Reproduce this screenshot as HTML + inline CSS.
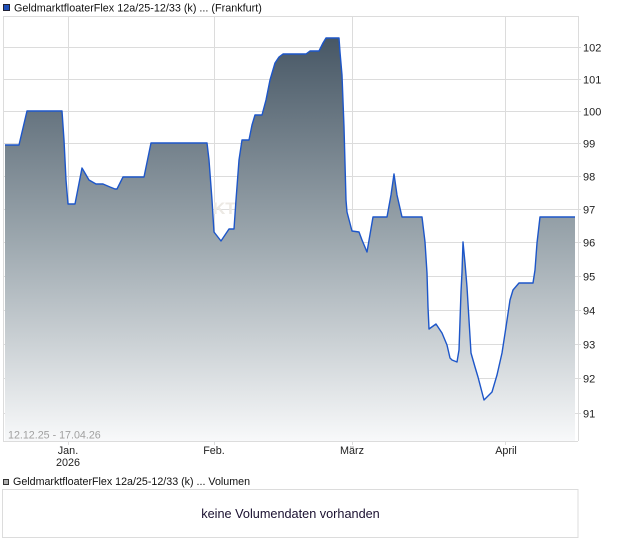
<!DOCTYPE html>
<html><head><meta charset="utf-8"><style>
html,body{margin:0;padding:0;background:#fff;}
svg{display:block;}
text{font-family:"Liberation Sans",Arial,sans-serif;}
</style></head><body>
<svg width="620" height="546" viewBox="0 0 620 546" xmlns="http://www.w3.org/2000/svg">
<defs>
<linearGradient id="g" x1="0" y1="38" x2="0" y2="441" gradientUnits="userSpaceOnUse">
<stop offset="0" stop-color="#475765"/>
<stop offset="0.5" stop-color="#9ca7ae"/>
<stop offset="1" stop-color="#f8f9fa"/>
</linearGradient>
</defs>
<!-- title -->
<rect x="3.5" y="4.5" width="6" height="6" fill="#1f4fb8" stroke="#223" stroke-width="1"/>
<text x="14" y="11.5" font-size="10.8" fill="#111">GeldmarktfloaterFlex 12a/25-12/33 (k) ... (Frankfurt)</text>
<!-- grid -->
<g stroke="#dcdcdc" stroke-width="1" fill="none">
<path d="M3 16.5H578M3 47.5H578M3 79.5H578M3 111.5H578M3 143.5H578M3 176.5H578M3 209.5H578M3 242.5H578M3 276.5H578M3 310.5H578M3 344.5H578M3 378.5H578M3 413.5H578"/>
<path d="M68.5 16V441M214.5 16V441M352.5 16V441M505.5 16V441"/>
<path d="M3.5 16V441M578.5 16V441M3 441.5H578"/>
<path d="M578 47.5h3M578 79.5h3M578 111.5h3M578 143.5h3M578 176.5h3M578 209.5h3M578 242.5h3M578 276.5h3M578 310.5h3M578 344.5h3M578 378.5h3M578 413.5h3"/>
<path d="M68.5 441v4M214.5 441v4M352.5 441v4M505.5 441v4"/>
</g>
<text x="213" y="214" font-size="17" font-weight="bold" fill="#ece9e4">KT</text>
<!-- series -->
<path fill="url(#g)" stroke="none" d="M5,145 L19,145 L27,111 L62,111 L64,140 L66,180 L68,204 L75,204 L82,168 L89,180 L96,184 L103,184 L110,187 L115,189 L117,189 L123,177 L144,177 L151,143 L207,143 L209,160 L212,200 L214,232 L221,241 L229,229 L234,229 L236,200 L239,160 L242,140 L249,140 L252,125 L255,115 L262,115 L266,100 L270,80 L275,63 L279,57 L283,54 L306,54 L310,51 L319,51 L323,43 L326,38 L339,38 L340,52 L342,75 L344,127 L346,200 L347,212 L352,231 L359,232 L362,240 L367,252 L373,217 L387,217 L391,195 L394,174 L397,195 L402,217 L422,217 L425,242 L427,273 L428,307 L429,329 L436,324 L442,333 L447,345 L450,358 L452,360 L457,362 L459,350 L461,292 L462,272 L463,242 L465,263 L467,287 L469,320 L471,353 L475,367 L478,377 L484,400 L492,392 L497,375 L502,353 L506,327 L510,300 L513,290 L519,283 L533,283 L535,270 L537,243 L540,217 L575,217 L575,441 L5,441 Z"/>
<path fill="none" stroke="#1d56c9" stroke-width="1.4" stroke-linejoin="round" d="M5,145 L19,145 L27,111 L62,111 L64,140 L66,180 L68,204 L75,204 L82,168 L89,180 L96,184 L103,184 L110,187 L115,189 L117,189 L123,177 L144,177 L151,143 L207,143 L209,160 L212,200 L214,232 L221,241 L229,229 L234,229 L236,200 L239,160 L242,140 L249,140 L252,125 L255,115 L262,115 L266,100 L270,80 L275,63 L279,57 L283,54 L306,54 L310,51 L319,51 L323,43 L326,38 L339,38 L340,52 L342,75 L344,127 L346,200 L347,212 L352,231 L359,232 L362,240 L367,252 L373,217 L387,217 L391,195 L394,174 L397,195 L402,217 L422,217 L425,242 L427,273 L428,307 L429,329 L436,324 L442,333 L447,345 L450,358 L452,360 L457,362 L459,350 L461,292 L462,272 L463,242 L465,263 L467,287 L469,320 L471,353 L475,367 L478,377 L484,400 L492,392 L497,375 L502,353 L506,327 L510,300 L513,290 L519,283 L533,283 L535,270 L537,243 L540,217 L575,217"/>
<!-- y labels -->
<g font-size="11" fill="#222">
<text x="583" y="51.5">102</text>
<text x="583" y="83.5">101</text>
<text x="583" y="115.5">100</text>
<text x="583" y="147.5">99</text>
<text x="583" y="180.5">98</text>
<text x="583" y="213.5">97</text>
<text x="583" y="246.5">96</text>
<text x="583" y="280.5">95</text>
<text x="583" y="314.5">94</text>
<text x="583" y="348.5">93</text>
<text x="583" y="382.5">92</text>
<text x="583" y="417.5">91</text>
</g>
<text x="8" y="438.5" font-size="10.7" fill="#a0a0a0">12.12.25 - 17.04.26</text>
<!-- x labels -->
<g font-size="10.8" fill="#222" text-anchor="middle">
<text x="68" y="454">Jan.</text>
<text x="68" y="466">2026</text>
<text x="214" y="454">Feb.</text>
<text x="352" y="454">März</text>
<text x="506" y="454">April</text>
</g>
<!-- volume -->
<rect x="3.5" y="479.5" width="5" height="5" fill="#b0b0b0" stroke="#333" stroke-width="1"/>
<text x="13" y="485" font-size="10.7" fill="#111">GeldmarktfloaterFlex 12a/25-12/33 (k) ... Volumen</text>
<rect x="2.5" y="489.5" width="575.5" height="48" fill="#fff" stroke="#dcdcdc" stroke-width="1"/>
<text x="290.5" y="518" font-size="12.7" fill="#1a1030" text-anchor="middle">keine Volumendaten vorhanden</text>
</svg>
</body></html>
